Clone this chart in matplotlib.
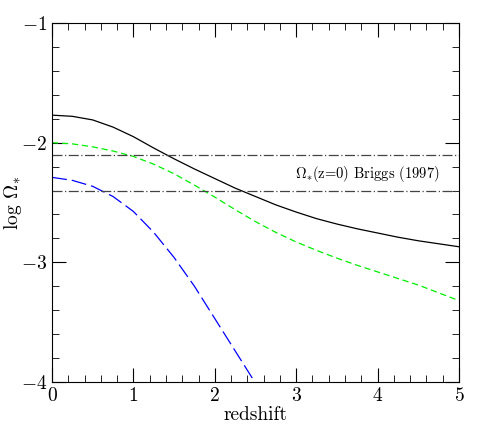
import numpy as np
import matplotlib
matplotlib.use('Agg')
import matplotlib.pyplot as plt
from matplotlib.ticker import MultipleLocator

plt.rcParams['font.family'] = 'serif'
plt.rcParams['font.serif'] = ['cmr10', 'DejaVu Serif']
plt.rcParams['mathtext.fontset'] = 'cm'
plt.rcParams['axes.formatter.use_mathtext'] = True

# curves
z = [0.0, 0.25, 0.5, 0.75, 1.0, 1.25, 1.5, 1.75, 2.0, 2.25, 2.5, 2.75,
     3.0, 3.25, 3.5, 3.75, 4.0, 4.25, 4.5, 4.75, 5.0]
total = [-1.77, -1.78, -1.81, -1.87, -1.95, -2.045, -2.135, -2.22, -2.30, -2.38, -2.45, -2.52,
         -2.58, -2.635, -2.68, -2.72, -2.755, -2.79, -2.82, -2.845, -2.87]
green = [-2.00, -2.01, -2.035, -2.07, -2.115, -2.18, -2.26, -2.355, -2.455, -2.56, -2.66, -2.75,
         -2.83, -2.90, -2.965, -3.025, -3.08, -3.135, -3.19, -3.255, -3.32]
z_blue = [0.0, 0.25, 0.5, 0.75, 1.0, 1.25, 1.5, 1.75, 2.0, 2.25, 2.5]
blue = [-2.29, -2.315, -2.365, -2.45, -2.575, -2.75, -2.96, -3.20, -3.47, -3.74, -4.01]
briggs = [-2.10, -2.40]

fig = plt.figure(figsize=(4.85, 4.29), dpi=100)
ax = fig.add_axes([0.1072, 0.1096, 0.8392, 0.8368])

ax.plot(z, total, color='black', lw=0.9)
ax.plot(z, green, color='#00ee00', lw=0.9, dashes=(5, 3))
ax.plot(z_blue, blue, color='blue', lw=0.9, dashes=(12, 4))
for b in briggs:
    ax.axhline(b, color='#444444', lw=0.9, dashes=(8, 2, 1, 2))

ax.text(4.77, -2.265, r'$\Omega_{*}$(z=0) Briggs (1997)', fontsize=10.5,
        ha='right', va='center')

ax.set_xlim(0, 5)
ax.set_ylim(-4, -1)
ax.xaxis.set_major_locator(MultipleLocator(1))
ax.xaxis.set_minor_locator(MultipleLocator(0.2))
ax.yaxis.set_major_locator(MultipleLocator(1))
ax.yaxis.set_minor_locator(MultipleLocator(0.2))
ax.tick_params(which='both', direction='in', top=True, right=True, labelsize=14)
ax.tick_params(which='major', length=10)
ax.tick_params(which='minor', length=5)

ax.set_xlabel('redshift', fontsize=14, labelpad=1)
ax.set_ylabel(r'log $\Omega_{*}$', fontsize=14)
ax.yaxis.set_label_coords(-0.07, 0.5)

fig.savefig('out.png', dpi=100)
